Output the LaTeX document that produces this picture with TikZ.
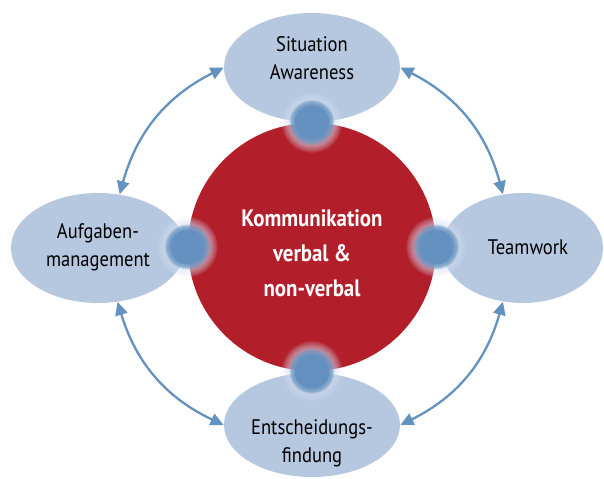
\documentclass[tikz,border=0pt]{standalone}
\usepackage{fontspec}
\setmainfont{PT Sans}[FakeStretch=0.88]
\usetikzlibrary{shapes.geometric,arrows.meta}

\definecolor{kommred}{RGB}{179,30,43}
\definecolor{ellblue}{RGB}{182,199,224}
\definecolor{dotblue}{RGB}{100,145,192}
\definecolor{haloblue}{RGB}{214,226,242}
\definecolor{arrowblue}{RGB}{99,146,193}

\begin{document}
\begin{tikzpicture}[
  cyc/.style={ellipse, fill=ellblue, inner sep=0pt},
  cyctext/.style={align=center, font=\fontsize{12}{16}\selectfont},
  cycarrow/.style={draw=arrowblue, line width=1.3pt,
    {Triangle[length=7.5pt,width=7pt]}-{Triangle[length=7.5pt,width=7pt]}}]
  \useasboundingbox (-6.24,-4.64) rectangle (5.84,4.94);
  \clip (-6.24,-4.64) rectangle (5.84,4.94);

  \node[circle, fill=kommred, minimum size=4.96cm, inner sep=0pt] (kom) at (0,0) {};
  \node[text=white, align=center, font=\bfseries\fontsize{13.5}{19.8}\selectfont] (komtext) at (0,-0.12)
    {Kommunikation\\verbal \&\\non-verbal};

  \node[cyc, minimum width=3.52cm, minimum height=2.18cm] (sa) at (0,3.59) {};
  \node[cyc, minimum width=3.48cm, minimum height=2.2cm] (ag) at (-4.28,-0.02) {};
  \node[cyc, minimum width=3.22cm, minimum height=2.2cm] (tw) at (4.21,-0.02) {};
  \node[cyc, minimum width=3.52cm, minimum height=2.08cm] (ef) at (0,-3.56) {};

  \node[cyctext] (satext) at (0,3.77) {Situation\\Awareness};
  \node[cyctext] (agtext) at (-4.28,0) {Aufgaben-\\management};
  \node[cyctext] (twtext) at (4.32,0) {Teamwork};
  \node[cyctext] (eftext) at (0,-3.92) {Entscheidungs-\\findung};

  \draw[cycarrow] (sa.west) to[bend right=24] (ag.68);
  \draw[cycarrow] (sa.east) to[bend left=24] (tw.110);
  \draw[cycarrow] (ag.290) to[bend right=24] (ef.west);
  \draw[cycarrow] (tw.250) to[bend left=24] (ef.east);

  % contact points with a soft halo
  \foreach \a in {north,west,east,south} {
    \foreach \r in {0.60,0.57,...,0.33}
      \fill[haloblue, opacity=0.14] (kom.\a) circle (\r);
    \foreach \r in {0.45,0.43,...,0.37}
      \fill[dotblue, opacity=0.3] (kom.\a) circle (\r);
    \fill[dotblue] (kom.\a) circle (0.35);
  }
\end{tikzpicture}
\end{document}
